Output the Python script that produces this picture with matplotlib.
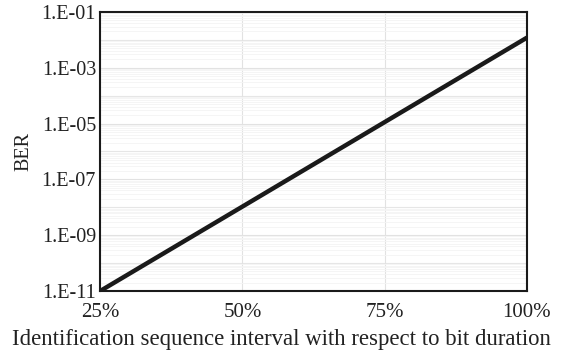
import matplotlib
matplotlib.use("Agg")
import matplotlib.pyplot as plt
from matplotlib.ticker import FixedLocator, LogLocator, NullFormatter

# Data
interval_pct = [25, 50, 75, 100]
ber = [1.0e-11, 1.06e-8, 1.13e-5, 1.2e-2]

x_ticks = [25, 50, 75, 100]
x_labels = ["25%", "50%", "75%", "100%"]
y_ticks = [1e-11, 1e-9, 1e-7, 1e-5, 1e-3, 1e-1]
y_labels = ["1.E-11", "1.E-09", "1.E-07", "1.E-05", "1.E-03", "1.E-01"]

plt.rcParams['font.family'] = ['Liberation Serif', 'DejaVu Serif']

fig = plt.figure(figsize=(5.63, 3.51), dpi=100)
ax = fig.add_axes([0.178, 0.171, 0.758, 0.795])

ax.plot(interval_pct, ber, color='#1a1a1a', linewidth=3.2, solid_capstyle='butt', zorder=3)

ax.set_yscale('log')
ax.set_xlim(25, 100)
ax.set_ylim(1e-11, 1e-1)

ax.xaxis.set_major_locator(FixedLocator(x_ticks))
ax.set_xticklabels(x_labels)
ax.set_yticks(y_ticks)
ax.set_yticklabels(y_labels)
ax.yaxis.set_minor_locator(LogLocator(base=10, subs=range(2, 10), numticks=50))
ax.yaxis.set_minor_formatter(NullFormatter())

# decade lines between the labelled ticks, then faint minor lines
for k in range(-10, -1, 2):
    ax.axhline(10.0**k, color='#e6e6e6', linewidth=0.8, zorder=1)
ax.grid(True, which='major', axis='both', color='#e2e2e2', linewidth=0.8, zorder=1)
ax.grid(True, which='minor', axis='y', color='#f4f4f4', linewidth=0.6, zorder=0)

ax.tick_params(axis='both', which='both', length=0, colors='#222222')
ax.tick_params(axis='x', labelsize=15, pad=9)
ax.tick_params(axis='y', labelsize=14.5, pad=3)

for s in ax.spines.values():
    s.set_color('#1a1a1a')
    s.set_linewidth(1.5)

ax.set_ylabel("BER", fontsize=14.5, color='#222222', labelpad=6)
# x title sits centred on the figure rather than on the axes
fig.text(0.5, 0.016, "Identification sequence interval with respect to bit duration",
         fontsize=16.4, color='#222222', ha='center', va='baseline')

fig.savefig("out.png", dpi=100)
